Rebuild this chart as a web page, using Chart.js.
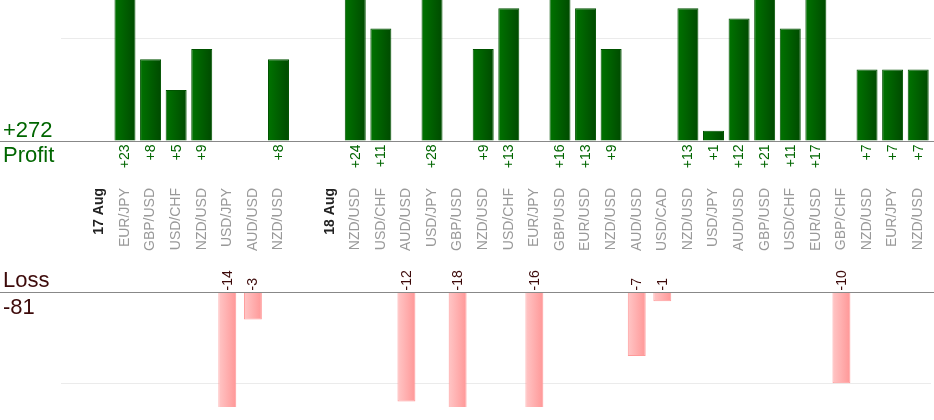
<!DOCTYPE html>
<html>
<head>
<meta charset="utf-8">
<script src="https://cdn.jsdelivr.net/npm/chart.js@4"></script>
<style>
  body { margin: 0; background: #fff; }
  #wrap { position: relative; width: 934px; height: 420px; overflow: hidden; }
  #profit { position: absolute; left: 0; top: 0; }
  #loss { position: absolute; left: 0; top: 260px; }
</style>
</head>
<body>
<div id="wrap">
  <canvas id="profit" width="934" height="260"></canvas>
  <canvas id="loss" width="934" height="160"></canvas>
</div>
<script>
// trades per day (pips)
const days = ["17 Aug", "18 Aug"];
const pairs17 = ["EUR/JPY", "GBP/USD", "USD/CHF", "NZD/USD", "USD/JPY", "AUD/USD", "NZD/USD"];
const pips17 = [23, 8, 5, 9, -14, -3, 8];
const pairs18 = ["NZD/USD", "USD/CHF", "AUD/USD", "USD/JPY", "GBP/USD", "NZD/USD", "USD/CHF", "EUR/JPY",
  "GBP/USD", "EUR/USD", "NZD/USD", "AUD/USD", "USD/CAD", "NZD/USD", "USD/JPY", "AUD/USD",
  "GBP/USD", "USD/CHF", "EUR/USD", "GBP/CHF", "NZD/USD", "EUR/JPY", "NZD/USD"];
const pips18 = [24, 11, -12, 28, -18, 9, 13, -16, 16, 13, 9, -7, -1, 13, 1, 12, 21, 11, 17, -10, 7, 7, 7];

// one empty slot before each day, then the day name, then its trades
const labels = ["", days[0], ...pairs17, "", days[1], ...pairs18];
const pips = [null, null, ...pips17, null, null, ...pips18];
const profit = pips.map(v => (v !== null && v > 0) ? v : null);
const loss = pips.map(v => (v !== null && v < 0) ? v : null);

const totalProfit = profit.reduce((s, v) => s + (v || 0), 0);
const totalLoss = loss.reduce((s, v) => s + (v || 0), 0);

const FONT = "'Liberation Sans', Arial, sans-serif";
const PAD_L = 61, PAD_R = 3;

// gradient left->right for each bar
function barGradient(c, pct, from, to, fallback) {
    const chart = c.chart;
    if (!chart.chartArea || !chart.scales.x) return fallback;
    const x = chart.scales.x.getPixelForValue(c.dataIndex);
    const half = chart.scales.x.width / labels.length * pct / 2;
    const g = chart.ctx.createLinearGradient(x - half, 0, x + half, 0);
    g.addColorStop(0, from);
    g.addColorStop(1, to);
    return g;
}

// baseline across the whole width, value labels, totals
const extras = {
    id: "extras",
    afterDatasetsDraw(chart, args, opts) {
        const ctx = chart.ctx;
        const y0 = Math.round(chart.scales.y.getPixelForValue(0)) + 0.5;
        ctx.save();
        ctx.strokeStyle = "#888888";
        ctx.lineWidth = 1;
        ctx.beginPath();
        ctx.moveTo(0, y0);
        ctx.lineTo(chart.width, y0);
        ctx.stroke();

        ctx.font = "14px " + FONT;
        ctx.fillStyle = opts.valueColor;
        ctx.textBaseline = "middle";
        const meta = chart.getDatasetMeta(0);
        const data = chart.data.datasets[0].data;
        meta.data.forEach((bar, i) => {
            const v = data[i];
            if (v === null) return;
            ctx.save();
            if (opts.side === "top") {
                ctx.translate(bar.x + 0.5, y0 + 3);
                ctx.rotate(-Math.PI / 2);
                ctx.textAlign = "right";
                ctx.fillText("+" + v, 0, 0);
            } else {
                ctx.translate(bar.x + 0.5, y0 - 2);
                ctx.rotate(-Math.PI / 2);
                ctx.textAlign = "left";
                ctx.fillText(String(v), 0, 0);
            }
            ctx.restore();
        });

        ctx.font = "22px " + FONT;
        ctx.textAlign = "left";
        ctx.textBaseline = "alphabetic";
        ctx.fillStyle = opts.totalColor;
        ctx.fillText(opts.upper, 3, opts.upperY);
        ctx.fillText(opts.lower, 3, opts.lowerY);
        ctx.restore();
    }
};

// top chart: profits and the pair names
new Chart(document.getElementById("profit"), {
    type: "bar",
    data: {
        labels,
        datasets: [{
            data: profit,
            backgroundColor: c => barGradient(c, 0.82, "#007300", "#004a00", "#006000"),
            borderColor: "#005200",
            borderWidth: 1,
            barPercentage: 0.82,
            categoryPercentage: 1,
            clip: 0
        }]
    },
    options: {
        responsive: false,
        animation: false,
        layout: { padding: { left: PAD_L, right: PAD_R, top: 0, bottom: 0 } },
        plugins: {
            legend: { display: false },
            tooltip: { enabled: false },
            extras: {
                side: "top", valueColor: "#006600", totalColor: "#006600",
                upper: "+" + totalProfit, upperY: 137, lower: "Profit", lowerY: 162
            }
        },
        scales: {
            x: {
                grid: { display: false },
                border: { display: false },
                ticks: {
                    autoSkip: false,
                    minRotation: 90,
                    maxRotation: 90,
                    padding: 39,
                    color: c => days.includes(c.tick.label) ? "#222222" : "#999999",
                    font: c => days.includes(c.tick.label)
                        ? { family: FONT, size: 14, weight: "bold" }
                        : { family: FONT, size: 14 }
                },
                afterFit: s => {
                    s.height = 119;
                    s.paddingLeft = 0;
                    s.paddingRight = 0;
                }
            },
            y: {
                min: 0,
                max: 13.8,
                ticks: { display: false, stepSize: 10 },
                grid: {
                    drawTicks: false,
                    color: c => c.tick.value === 10 ? "#ebebeb" : "rgba(0,0,0,0)"
                },
                border: { display: false },
                afterFit: s => { s.width = 0; }
            }
        }
    },
    plugins: [extras]
});

// bottom chart: losses
new Chart(document.getElementById("loss"), {
    type: "bar",
    data: {
        labels,
        datasets: [{
            data: loss,
            backgroundColor: c => barGradient(c, 0.7, "#ffc6c6", "#ff9797", "#ffaaaa"),
            borderColor: "#ff9a9a",
            borderWidth: 1,
            barPercentage: 0.7,
            categoryPercentage: 1,
            clip: 0
        }]
    },
    options: {
        responsive: false,
        animation: false,
        layout: { padding: { left: PAD_L, right: PAD_R, top: 32, bottom: 13 } },
        plugins: {
            legend: { display: false },
            tooltip: { enabled: false },
            extras: {
                side: "bottom", valueColor: "#3d0a0a", totalColor: "#3d0a0a",
                upper: "Loss", upperY: 27, lower: String(totalLoss), lowerY: 54
            }
        },
        scales: {
            x: { display: false },
            y: {
                min: -12.6,
                max: 0,
                ticks: { display: false, stepSize: 10 },
                grid: {
                    drawTicks: false,
                    color: c => c.tick.value === -10 ? "#ebebeb" : "rgba(0,0,0,0)"
                },
                border: { display: false },
                afterFit: s => { s.width = 0; }
            }
        }
    },
    plugins: [extras]
});
</script>
</body>
</html>
